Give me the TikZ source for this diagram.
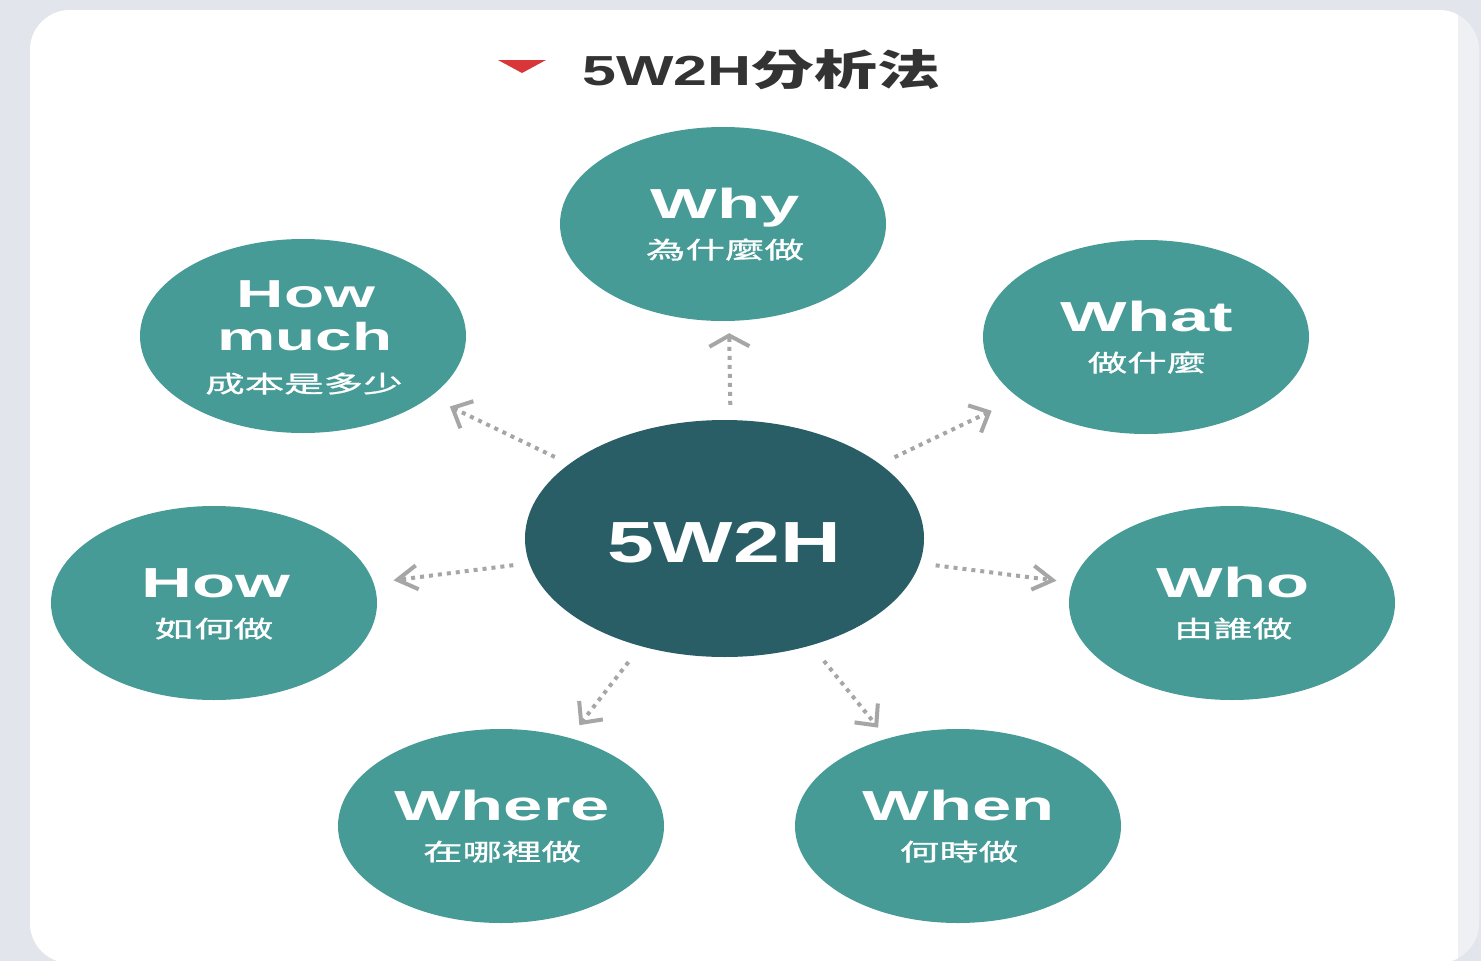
\documentclass[tikz,border=0pt]{standalone}
\usepackage{fontspec}
\usetikzlibrary{shapes.geometric,arrows.meta}
\newfontfamily\wordfont{Liberation Sans}[FakeStretch=1.68]
\newfontfamily\hubfont{Liberation Sans}[FakeStretch=1.45]
\newfontfamily\subfont{Noto Sans CJK TC}[FakeStretch=1.68,FakeBold=1.2]
\newfontfamily\titlecjk{Noto Sans CJK TC}[FakeStretch=1.5]
\definecolor{bgcol}{HTML}{E3E5EC}
\definecolor{stripcol}{HTML}{EFF0F3}
\definecolor{teal}{HTML}{479B96}
\definecolor{hubcol}{HTML}{2A5E67}
\definecolor{titlecol}{HTML}{333333}
\definecolor{arrgrey}{HTML}{A6A6A6}
\definecolor{markred}{HTML}{D9363A}
\begin{document}
\begin{tikzpicture}[x=1pt,y=-1pt,
  bubble/.style={ellipse,fill=teal,inner sep=0pt,minimum width=326pt,minimum height=194pt},
  hub/.style={ellipse,fill=hubcol,inner sep=0pt,minimum width=399pt,minimum height=237pt},
  word/.style={anchor=base,inner sep=0pt,text=white,font=\wordfont\bfseries\fontsize{42}{42}\selectfont},
  smallword/.style={anchor=base,inner sep=0pt,text=white,font=\wordfont\bfseries\fontsize{39}{39}\selectfont},
  sub/.style={anchor=base,inner sep=0pt,text=white,font=\subfont\fontsize{23.5}{23.5}\selectfont},
  hubtext/.style={anchor=base,inner sep=0pt,text=white,font=\hubfont\bfseries\fontsize{58}{58}\selectfont},
  arr/.style={draw=arrgrey,line width=4pt,dash pattern=on 4pt off 5pt,shorten <=16pt,shorten >=16pt},
  vtip/.style={-{Straight Barb[length=11pt,width=40pt,line width=4pt]}},
  htip/.style={-{Straight Barb[length=20pt,width=24pt,line width=4pt]}},
  dtip/.style={-{Straight Barb[length=16pt,width=30pt,line width=4pt]}}
]
\useasboundingbox (0,0) rectangle (1481,961);
\fill[bgcol] (0,0) rectangle (1481,961);
\fill[stripcol,rounded corners=40pt] (30,10) rectangle (1479,963);
\begin{scope}
  \clip[rounded corners=40pt] (30,10) rectangle (1479,963);
  \fill[white] (30,10) rectangle (1458,963);
\end{scope}

% title
\fill[markred] (498,60) -- (546,60) -- (522,73) -- cycle;
\node[anchor=base west,inner sep=0pt,text=titlecol] (title) at (582,85)
  {{\hubfont\bfseries\fontsize{42}{42}\selectfont 5W2H}{\titlecjk\bfseries\fontsize{42}{42}\selectfont 分析法}};

% bubbles
\node[hub] (c) at (724.5,538.5) {};
\node[bubble] (why) at (723,224) {};
\node[bubble] (what) at (1146,337) {};
\node[bubble] (hm) at (303,336) {};
\node[bubble] (how) at (214,603) {};
\node[bubble] (who) at (1232,603) {};
\node[bubble] (where) at (501,826) {};
\node[bubble] (when) at (958,826) {};

% texts
\node[hubtext] (tc) at (724,562) {5W2H};
\node[word] (twhy) at (725,218) {Why};
\node[sub] (swhy) at (725,258.5) {為什麼做};
\node[word] (twhat) at (1147,331) {What};
\node[sub] (swhat) at (1147,371.5) {做什麼};
\node[smallword] (thm1) at (306,307) {How};
\node[smallword] (thm2) at (305,350) {much};
\node[sub] (shm) at (304,392.5) {成本是多少};
\node[word] (twhow) at (216,597) {How};
\node[sub] (show) at (214,637.5) {如何做};
\node[word] (twho) at (1233,597) {Who};
\node[sub] (swho) at (1233,637.5) {由誰做};
\node[word] (twhere) at (502,820) {Where};
\node[sub] (swhere) at (502,860.5) {在哪裡做};
\node[word] (twhen) at (959,820) {When};
\node[sub] (swhen) at (959,860.5) {何時做};

% connectors
\draw[arr,vtip,shorten <=15pt,shorten >=12pt] ([xshift=6pt]c.north) -- ([xshift=6pt]why.south);
\draw[arr,dtip,shorten >=30pt] (c) -- (what);
\draw[arr,dtip,shorten >=22pt] (c) -- (hm);
\draw[arr,htip,shorten >=20pt] (c) -- (how);
\draw[arr,htip] (c) -- (who);
\draw[arr,dtip,shorten <=20pt] (c) -- (where);
\draw[arr,dtip,shorten <=20pt,shorten >=14pt] (c) -- (when);
\end{tikzpicture}
\end{document}
